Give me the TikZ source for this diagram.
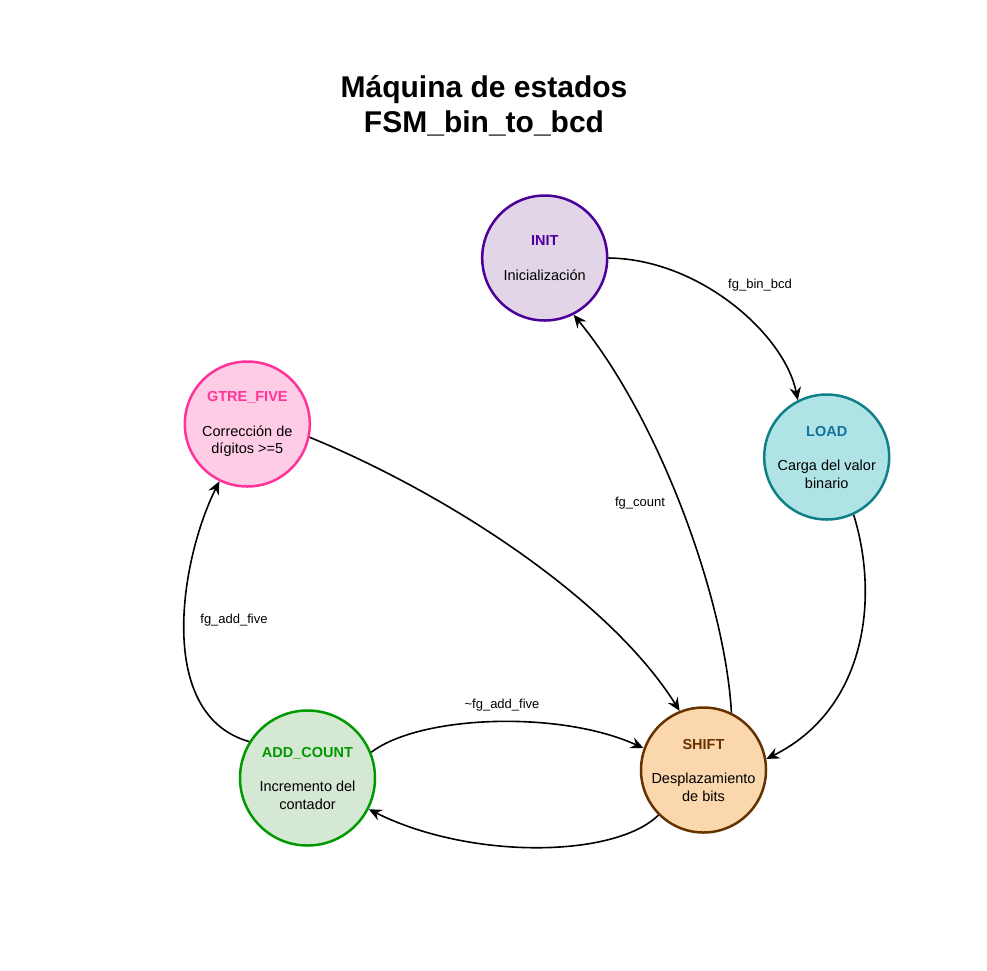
\documentclass[tikz,border=0pt]{standalone}
\usepackage{fontspec}
\setmainfont{Liberation Sans}
\usetikzlibrary{arrows.meta}
\definecolor{initf}{HTML}{E1D5E7}\definecolor{initd}{HTML}{4C0099}
\definecolor{loadf}{HTML}{B0E3E6}\definecolor{loadd}{HTML}{0E8088}\definecolor{loadt}{HTML}{10739E}
\definecolor{gtref}{HTML}{FFCCE6}\definecolor{gtred}{HTML}{FF3399}
\definecolor{addf}{HTML}{D5E8D4}\definecolor{addd}{HTML}{009900}
\definecolor{shiftf}{HTML}{FAD7AC}\definecolor{shiftd}{HTML}{663300}
\begin{document}
\begin{tikzpicture}[x=1pt,y=-1pt,
  state/.style={circle, line width=2.5pt, minimum size=125pt, inner sep=0pt, align=center,
    font=\fontsize{14.5}{17.5}\selectfont},
  edge/.style={line width=1.6pt, -{Stealth[length=13pt,width=11.5pt,inset=4.5pt]}},
  lbl/.style={font=\fontsize{13}{15}\selectfont, inner sep=0pt},
  ttl/.style={font=\fontsize{30}{35}\selectfont\bfseries, align=center, inner sep=0pt}]
\fill[white] (0,0) rectangle (987,970);
\useasboundingbox (0,0) rectangle (987,970);
\node[ttl] (title) at (484,105.5) {Máquina de estados\\FSM\_bin\_to\_bcd};
\node[state, draw=initd, fill=initf] (init) at (544.7,258)
  {\textbf{\color{initd}INIT}\\[17pt]Inicialización};
\node[state, draw=loadd, fill=loadf] (load) at (826.7,457)
  {\textbf{\color{loadt}LOAD}\\[17pt]Carga del valor\\binario};
\node[state, draw=gtred, fill=gtref] (gtre) at (247.3,424)
  {\textbf{\color{gtred}GTRE\_FIVE}\\[17pt]Corrección de\\dígitos >=5};
\node[state, draw=addd, fill=addf, minimum size=135pt] (add) at (307.5,778)
  {\textbf{\color{addd}ADD\_COUNT}\\[17pt]Incremento del\\contador};
\node[state, draw=shiftd, fill=shiftf] (shift) at (703.5,770)
  {\textbf{\color{shiftd}SHIFT}\\[17pt]Desplazamiento\\de bits};
\draw[edge] (init.0) .. controls (700,259) and (785,335) .. (load.117);
\draw[edge] (shift.64) .. controls (725,600) and (660,420) .. (init.-63);
\draw[edge] (load.-65) .. controls (880,600) and (865,710) .. (shift.10);
\draw[edge] (gtre.-12) .. controls (450,495) and (610,600) .. (shift.112);
\draw[edge] (add.148) .. controls (155,715) and (180,560) .. (gtre.-116);
\draw[edge] (add.22) .. controls (420,715) and (560,710) .. (shift.160);
\draw[edge] (shift.225) .. controls (615,858) and (470,860) .. (add.-27);
\node[lbl] (l1) at (760,285) {fg\_bin\_bcd};
\node[lbl] (l2) at (640,503) {fg\_count};
\node[lbl] (l3) at (234,620) {fg\_add\_five};
\node[lbl] (l4) at (502,705) {\textasciitilde fg\_add\_five};
\end{tikzpicture}
\end{document}
